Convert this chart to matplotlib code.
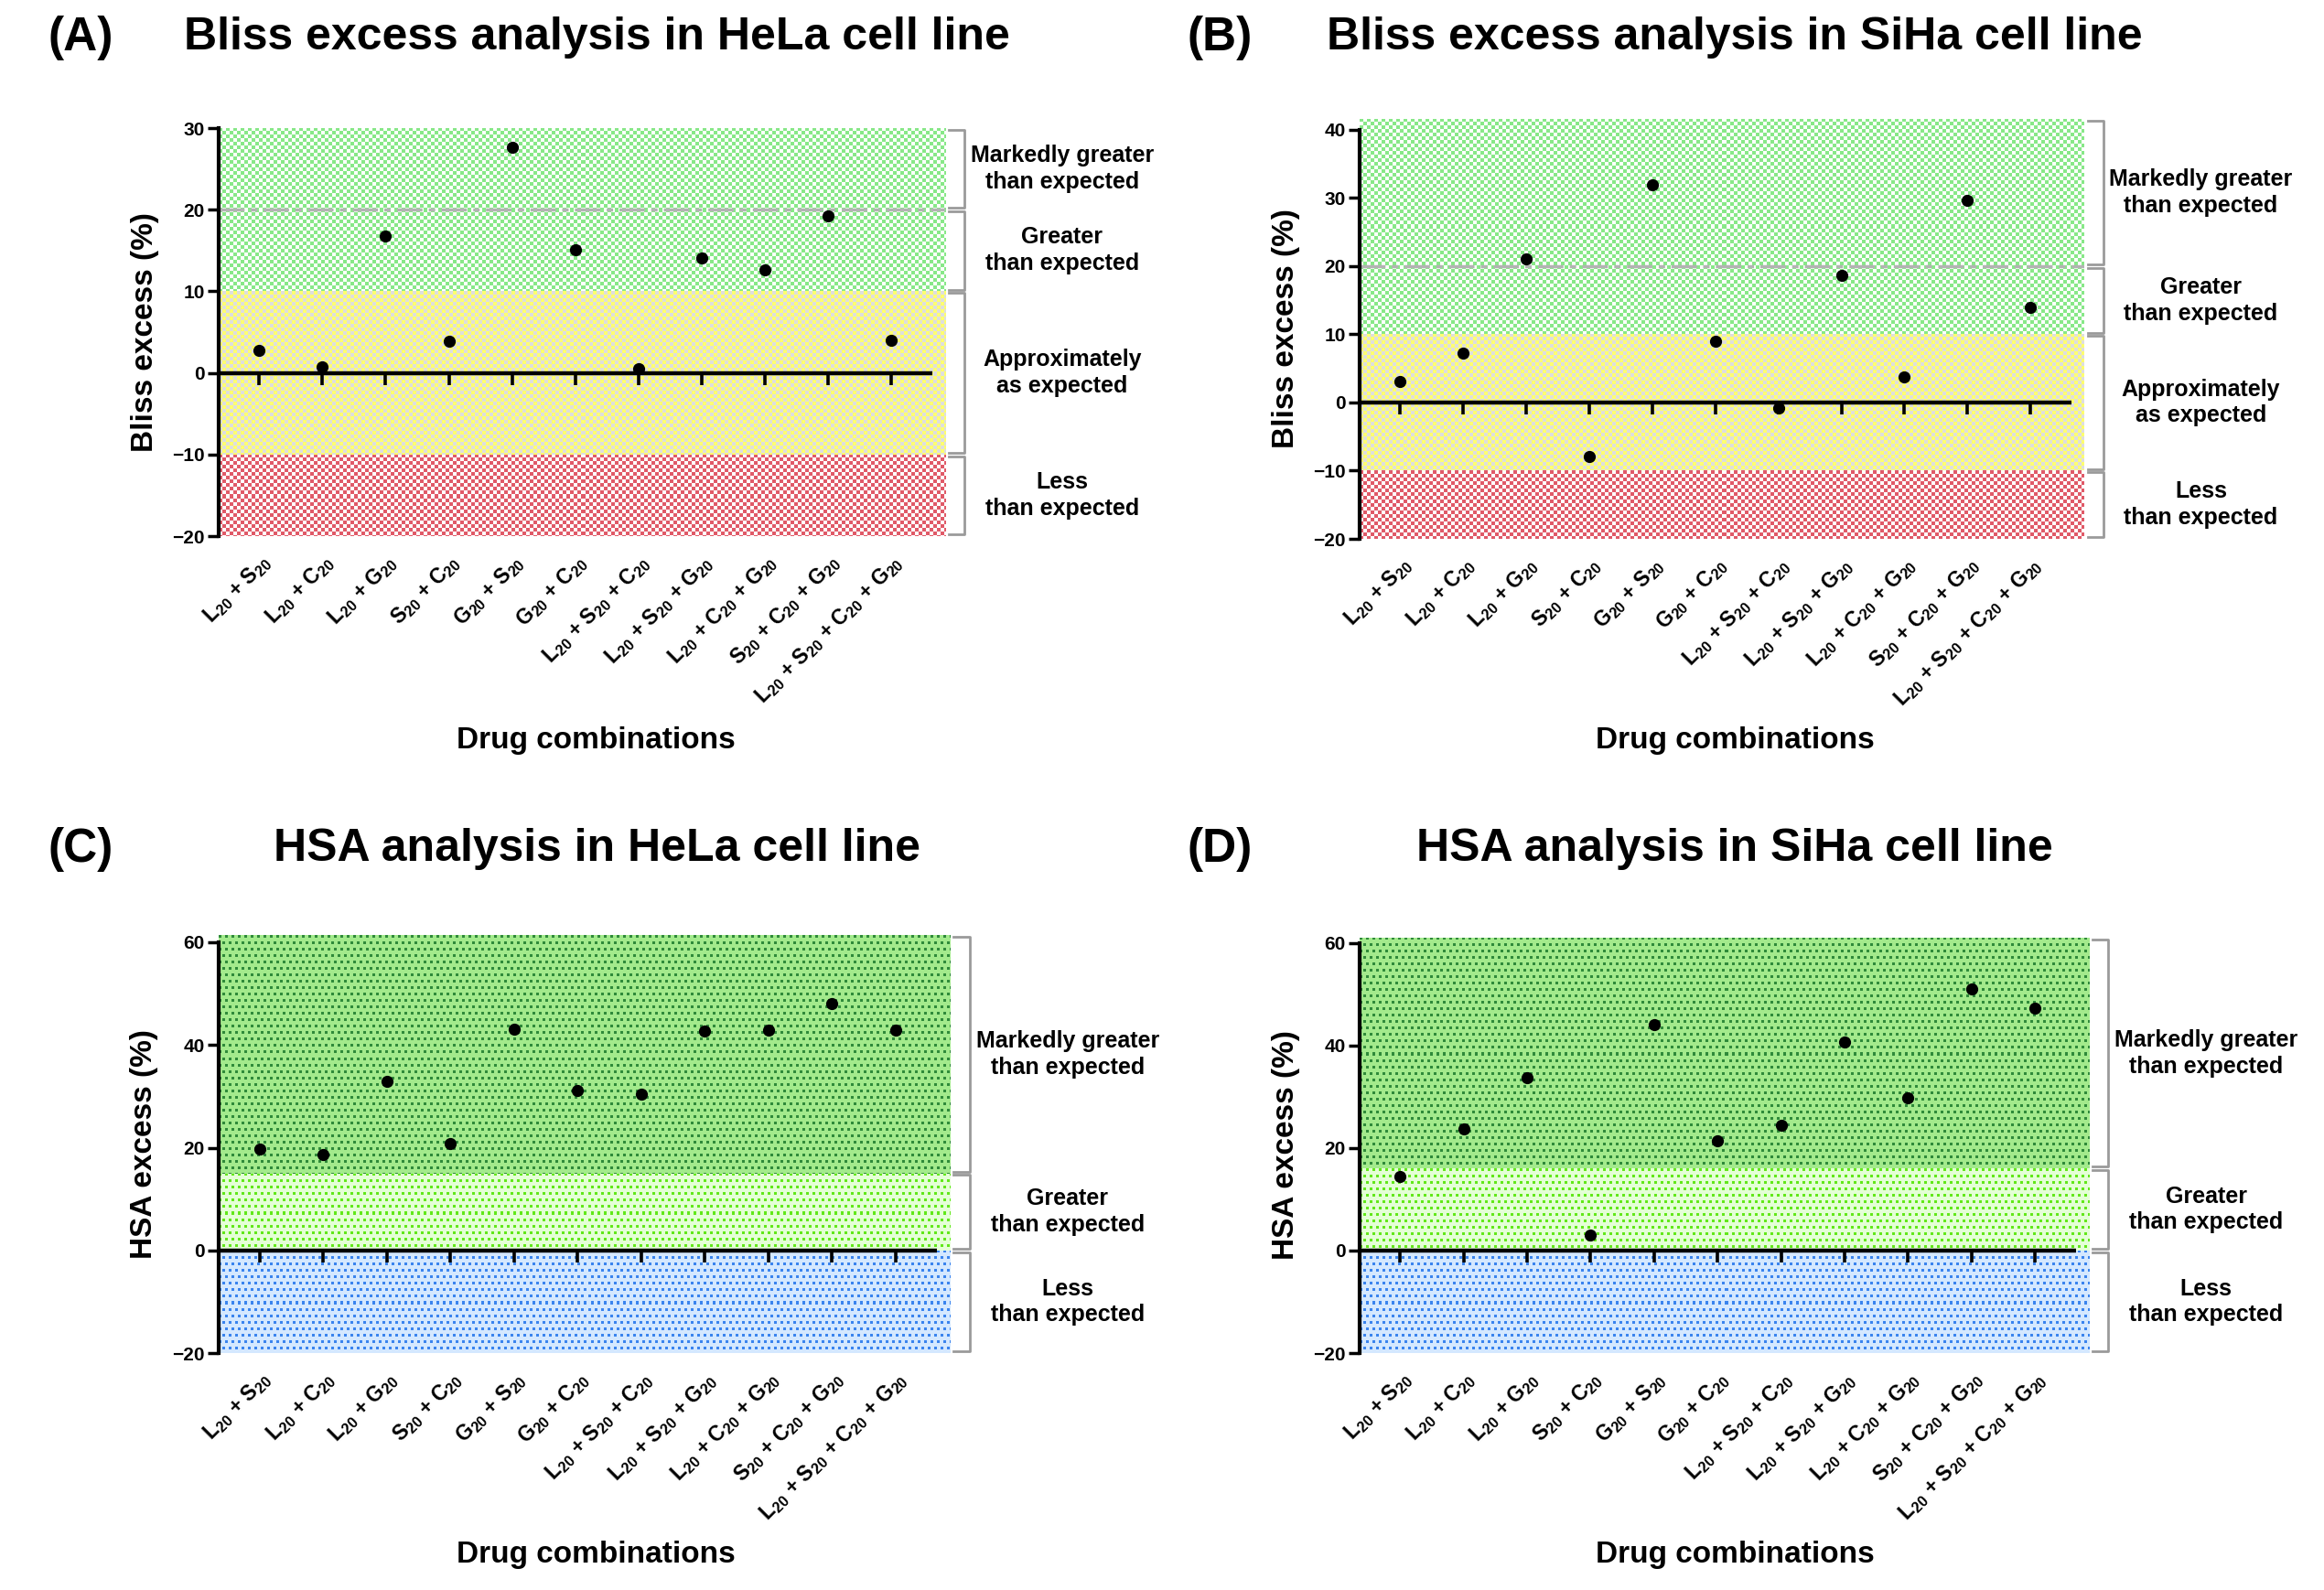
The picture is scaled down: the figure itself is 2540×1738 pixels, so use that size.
import numpy as np
import matplotlib.pyplot as plt
from matplotlib import transforms
from matplotlib.colors import to_rgb

plt.rcParams['font.family'] = ['Liberation Sans', 'DejaVu Sans']
plt.rcParams['font.weight'] = 'bold'
plt.rcParams['mathtext.fontset'] = 'custom'
plt.rcParams['mathtext.rm'] = 'Liberation Sans:bold'
plt.rcParams['mathtext.it'] = 'Liberation Sans:bold'
plt.rcParams['mathtext.bf'] = 'Liberation Sans:bold'

# Data
combos = [r'L$_{20}$ + S$_{20}$', r'L$_{20}$ + C$_{20}$', r'L$_{20}$ + G$_{20}$',
          r'S$_{20}$ + C$_{20}$', r'G$_{20}$ + S$_{20}$', r'G$_{20}$ + C$_{20}$',
          r'L$_{20}$ + S$_{20}$ + C$_{20}$', r'L$_{20}$ + S$_{20}$ + G$_{20}$',
          r'L$_{20}$ + C$_{20}$ + G$_{20}$', r'S$_{20}$ + C$_{20}$ + G$_{20}$',
          r'L$_{20}$ + S$_{20}$ + C$_{20}$ + G$_{20}$']
bliss_hela = [2.8, 0.8, 16.8, 3.9, 27.6, 15.1, 0.5, 14.1, 12.6, 19.2, 4.0]
bliss_siha = [3.1, 7.2, 21.1, -7.9, 31.9, 9.0, -0.8, 18.6, 3.7, 29.6, 14.0]
hsa_hela = [19.7, 18.6, 32.9, 20.8, 43.0, 31.2, 30.4, 42.8, 42.9, 48.0, 42.9]
hsa_siha = [14.5, 23.8, 33.8, 3.1, 44.0, 21.4, 24.4, 40.6, 29.7, 51.0, 47.2]

bliss_texts = ['Less\nthan expected', 'Approximately\nas expected',
               'Greater\nthan expected', 'Markedly greater\nthan expected']
hsa_texts = ['Less\nthan expected', 'Greater\nthan expected',
             'Markedly greater\nthan expected']

# fill patterns: (ink, background)
patterns = {
    'red': ('checker', '#e05a68', '#ffffff'),
    'yellow': ('checker', '#ffff70', '#dedede'),
    'green': ('checker', '#88e888', '#ffffff'),
    'darkgreen': ('dots', '#2f8a3a', '#a3ea8c'),
    'lightgreen': ('dots', '#62e81a', '#e4ffd6'),
    'blue': ('dots', '#3a84ee', '#d4e8ff'),
}

W, H = 2540, 1738
fig = plt.figure(figsize=(W / 100, H / 100), dpi=100)


def pattern(style, h, w):
    kind, ink, bg = patterns[style]
    yy, xx = np.mgrid[0:h, 0:w]
    if kind == 'checker':
        mask = ((yy // 4) + (xx // 4)) % 2 == 0
    else:
        shift = ((yy // 7) % 2) * 3
        mask = ((yy % 7) < 3) & (((xx + shift) % 7) < 3)
    return np.where(mask[..., None], np.array(to_rgb(ink)), np.array(to_rgb(bg)))


def draw_panel(pos, values, ylim, yticks, band_edges, band_styles,
               bracket_edges, texts, ylabel, dashed=None):
    ax = fig.add_axes(pos)
    xlim = (-0.64, 10.85)
    x = np.arange(len(values))
    px_w = int(pos[2] * W)
    px_per_unit = pos[3] * H / (ylim[1] - ylim[0])
    for lo, hi, st in zip(band_edges[:-1], band_edges[1:], band_styles):
        img = pattern(st, max(int(round((hi - lo) * px_per_unit)), 1), px_w)
        ax.imshow(img, extent=(xlim[0], xlim[1], lo, hi), aspect='auto',
                  interpolation='nearest', zorder=0)
    if dashed is not None:
        ax.axhline(dashed, color='#b3b3b3', lw=2.5, dashes=(8, 2, 2, 2), zorder=1)
    ax.plot([xlim[0], 10.65], [0, 0], color='black', lw=3.2,
            solid_capstyle='butt', zorder=3)
    ax.plot(x, np.zeros(len(x)), ls='none', marker=3, ms=9, mew=2.6,
            color='black', zorder=3)
    ax.plot(x, values, 'o', color='black', ms=8.5, zorder=4, clip_on=False)

    ax.set_xlim(xlim)
    ax.set_ylim(ylim)
    ax.set_yticks(yticks)
    ax.set_xticks(x, combos, rotation=45, ha='right', rotation_mode='anchor',
                  fontsize=16.5, fontweight='bold')
    ax.tick_params(axis='x', length=0, pad=12)
    ax.tick_params(axis='y', length=9, width=2.5, labelsize=15, pad=2)
    for s in ['top', 'right', 'bottom']:
        ax.spines[s].set_visible(False)
    ax.spines['left'].set_linewidth(3)
    ax.spines['left'].set_bounds(yticks[0], yticks[-1])
    ax.set_ylabel(ylabel, fontsize=24, fontweight='bold')
    ax.yaxis.set_label_coords(-0.082, 0.5)

    trans = transforms.blended_transform_factory(ax.transAxes, ax.transData)
    g = 0.004 * (ylim[1] - ylim[0])
    for lo, hi, txt in zip(bracket_edges[:-1], bracket_edges[1:], texts):
        ax.plot([1.005, 1.027, 1.027, 1.005], [lo + g, lo + g, hi - g, hi - g],
                transform=trans, clip_on=False, color='#9a9a9a', lw=2)
        ax.text(1.161, (lo + hi) / 2, txt, transform=trans, ha='center',
                va='center', fontsize=18, fontweight='bold', linespacing=1.25)
    return ax


draw_panel([0.0941, 0.6628, 0.3126, 0.2566], bliss_hela, (-20, 30),
           [-20, -10, 0, 10, 20, 30], [-20, -10, 10, 30],
           ['red', 'yellow', 'green'], [-20, -10, 10, 20, 30], bliss_texts,
           'Bliss excess (%)', dashed=20)
draw_panel([0.5850, 0.6611, 0.3118, 0.2641], bliss_siha, (-20, 41.6),
           [-20, -10, 0, 10, 20, 30, 40], [-20, -10, 10, 41.6],
           ['red', 'yellow', 'green'], [-20, -10, 10, 20, 41.6], bliss_texts,
           'Bliss excess (%)', dashed=20)
draw_panel([0.0941, 0.1490, 0.3146, 0.2629], hsa_hela, (-20, 61.4),
           [-20, 0, 20, 40, 60], [-20, 0, 15, 61.4],
           ['blue', 'lightgreen', 'darkgreen'], [-20, 0, 15, 61.4], hsa_texts,
           'HSA excess (%)')
draw_panel([0.5850, 0.1490, 0.3138, 0.2612], hsa_siha, (-20, 61.0),
           [-20, 0, 20, 40, 60], [-20, 0, 16, 61.0],
           ['blue', 'lightgreen', 'darkgreen'], [-20, 0, 16, 61.0], hsa_texts,
           'HSA excess (%)')

# panel letters, titles, x labels
fig.text(0.0346, 0.9764, '(A)', fontsize=37, fontweight='bold', ha='center', va='center')
fig.text(0.5248, 0.9764, '(B)', fontsize=37, fontweight='bold', ha='center', va='center')
fig.text(0.0346, 0.4660, '(C)', fontsize=37, fontweight='bold', ha='center', va='center')
fig.text(0.5248, 0.4660, '(D)', fontsize=37, fontweight='bold', ha='center', va='center')
fig.text(0.2567, 0.9764, 'Bliss excess analysis in HeLa cell line', fontsize=36,
         fontweight='bold', ha='center', va='center')
fig.text(0.7465, 0.9764, 'Bliss excess analysis in SiHa cell line', fontsize=36,
         fontweight='bold', ha='center', va='center')
fig.text(0.2567, 0.4660, 'HSA analysis in HeLa cell line', fontsize=36,
         fontweight='bold', ha='center', va='center')
fig.text(0.7465, 0.4660, 'HSA analysis in SiHa cell line', fontsize=36,
         fontweight='bold', ha='center', va='center')
for xc, yc in [(0.2563, 0.5345), (0.7465, 0.5345), (0.2563, 0.0224), (0.7465, 0.0224)]:
    fig.text(xc, yc, 'Drug combinations', fontsize=24, fontweight='bold',
             ha='center', va='center')

fig.savefig('out.png', dpi=100, facecolor='white')
